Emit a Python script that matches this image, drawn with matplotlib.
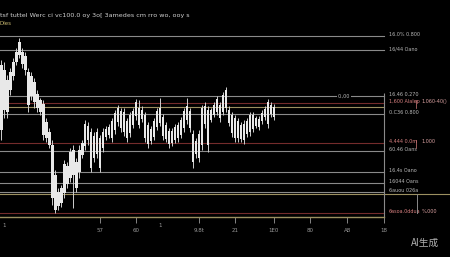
import matplotlib
matplotlib.use("Agg")
import matplotlib.pyplot as plt
from matplotlib.lines import Line2D

# candle data (price units)
highs = [190, 188, 175, 182, 192, 202, 212, 202, 198, 182, 178, 172, 160, 152, 150, 132,
         122, 110, 80, 62, 65, 90, 88, 102, 105, 92, 105, 110, 130, 128, 122, 118,
         122, 115, 122, 124, 126, 132, 140, 145, 142, 142, 132, 138, 142, 151, 150, 144,
         138, 128, 124, 132, 142, 152, 136, 128, 122, 122, 126, 128, 133, 142, 152, 142,
         120, 112, 120, 145, 148, 144, 142, 148, 154, 148, 158, 163, 144, 138, 135, 132,
         128, 130, 132, 138, 138, 134, 134, 140, 144, 151, 148, 146]
lows = [110, 132, 132, 155, 170, 185, 192, 182, 175, 138, 150, 142, 138, 135, 110, 108,
        102, 45, 37, 40, 43, 52, 62, 68, 42, 58, 72, 92, 100, 105, 78, 88,
        92, 78, 98, 110, 112, 108, 116, 124, 118, 114, 108, 113, 122, 130, 122, 128,
        108, 102, 106, 110, 120, 124, 110, 108, 102, 104, 107, 108, 112, 118, 126, 118,
        82, 92, 88, 100, 122, 98, 128, 133, 135, 128, 135, 138, 124, 113, 108, 108,
        108, 106, 113, 114, 118, 122, 120, 126, 130, 122, 133, 130]
opens = [185, 180, 170, 178, 188, 198, 208, 198, 194, 178, 174, 168, 156, 150, 146, 128,
         118, 105, 75, 58, 62, 86, 84, 98, 100, 88, 100, 107, 126, 124, 118, 114,
         118, 112, 118, 121, 123, 129, 137, 142, 139, 138, 129, 135, 139, 148, 142, 140,
         135, 125, 121, 129, 139, 142, 133, 125, 119, 119, 123, 125, 130, 139, 144, 139,
         116, 109, 116, 142, 144, 140, 140, 145, 151, 145, 155, 160, 140, 135, 132, 129,
         125, 126, 129, 135, 135, 132, 131, 137, 141, 148, 145, 143]
closes = [120, 140, 138, 160, 174, 188, 195, 186, 180, 145, 154, 148, 142, 138, 115, 112,
          105, 52, 40, 44, 47, 57, 66, 72, 75, 62, 78, 95, 104, 110, 82, 92,
          96, 82, 102, 113, 115, 112, 120, 128, 122, 118, 112, 117, 125, 134, 125, 131,
          112, 106, 109, 113, 123, 127, 114, 111, 106, 107, 110, 112, 115, 122, 130, 122,
          88, 96, 92, 105, 126, 105, 130, 135, 138, 132, 138, 142, 127, 117, 112, 112,
          111, 110, 116, 118, 121, 124, 123, 129, 133, 126, 136, 133]

# horizontal levels: price, kind, label
level_prices = [214, 200, 154, 147, 143, 136, 107, 99, 78, 67, 58, 56, 37]
level_kinds = ["g", "g", "g", "r", "t", "g", "r", "g", "g", "g", "g", "t", "r"]
level_labels = ["16.0% 0.800", "16/44 Oano", "16.46 0.270", "1,600 Alalep", "",
                "0.C36 0.800", "4.444 0.0m", "60.46 Oans", "16.4s Oano", "16044 Oans",
                "6auou 026a", "", "6asoa.0ddua"]
side_labels = {147: "1.060-40()", 107: "1.000", 37: "%.000"}

tick_pos = [33, 45, 66, 78, 91, 103, 115.5, 127.8]
tick_labels = ["57", "60", "9.8t", "21", "1E0", "80", "A8", "18"]

BG = "#000000"
GRAY = "#8a8a8a"
RED = "#742c2c"
TAN = "#9c9060"
colors = {"g": GRAY, "r": RED, "t": TAN}
label_colors = {"g": "#b8b8b8", "r": "#d88080", "t": "#b8b8b8"}

fig = plt.figure(figsize=(4.5, 2.57), dpi=100, facecolor=BG)
ax = fig.add_axes([0, 40 / 257, 384 / 450, 187 / 257], facecolor=BG)

# levels
for p, k, lab in zip(level_prices, level_kinds, level_labels):
    xmax = 450 / 384 if (k == "t" and p < 100) else 1
    ax.axhline(p, xmin=0, xmax=xmax, color=colors[k], lw=0.8, clip_on=False, zorder=1)
    if lab:
        ax.text(1.012, p + 1.2, lab, transform=ax.get_yaxis_transform(), fontsize=3.5,
                color=label_colors[k], va="center", ha="left")
for p, lab in side_labels.items():
    ax.text(1.098, p + 1.2, lab, transform=ax.get_yaxis_transform(), fontsize=3.5,
            color="#d8a0a0", va="center", ha="left")
ax.text(114.5, 154, "0.,00", fontsize=3.5, color="#b8b8b8", va="center", ha="center",
        bbox=dict(facecolor=BG, edgecolor="none", pad=0.5), zorder=2)

# candles
idx = list(range(len(highs)))
ax.vlines(idx, lows, highs, color="#cfcfcf", lw=0.7, zorder=3)
bottoms = [min(o, c) for o, c in zip(opens, closes)]
heights = [abs(o - c) for o, c in zip(opens, closes)]
ax.bar(idx, heights, bottom=bottoms, width=0.8, color="#e8e8e8", edgecolor="none", zorder=4)

ax.set_xlim(-0.5, 127.8)
ax.set_ylim(33, 220)
ax.vlines(127.8, 33, 157, color=GRAY, lw=0.8, clip_on=False, zorder=2)

for s in ["top", "right", "left"]:
    ax.spines[s].set_visible(False)
ax.spines["bottom"].set_color(TAN)
ax.spines["bottom"].set_linewidth(1.0)
ax.set_yticks([])
ax.set_xticks(tick_pos)
ax.set_xticklabels(tick_labels)
ax.tick_params(axis="x", colors="#9a9a9a", labelsize=4, length=4, width=0.6, pad=4)
ax.text(53, 27, "1", fontsize=4, color="#9a9a9a", ha="center", va="top", clip_on=False)
ax.text(0.3, 27, "1", fontsize=4, color="#9a9a9a", ha="left", va="top", clip_on=False)

# short vertical marks at right of the labels
fig.add_artist(Line2D([417 / 450, 417 / 450], [1 - 194 / 257, 1 - 213 / 257], color=GRAY, lw=0.7))
fig.add_artist(Line2D([416 / 450, 416 / 450], [1 - 100 / 257, 1 - 108 / 257], color="#d88080", lw=0.5))
fig.add_artist(Line2D([416 / 450, 416 / 450], [1 - 140 / 257, 1 - 148 / 257], color="#d88080", lw=0.5))

fig.text(0.0, 1 - 16 / 257, "tsf tuttel Werc ci vc100.0 oy 3o[ 3amedes cm rro wo, ooy s",
         fontsize=4.6, color="#d0d0d0", va="center", ha="left")
fig.text(0.0, 1 - 23.5 / 257, "Dles", fontsize=4, color="#c8b870", va="center", ha="left")
fig.text(0.975, 1 - 243 / 257, "AI生成", fontsize=7, color="#b0b0b0", ha="right", va="center",
         family=["Noto Sans CJK SC", "DejaVu Sans"])

fig.savefig("out.png", dpi=100, facecolor=BG)
